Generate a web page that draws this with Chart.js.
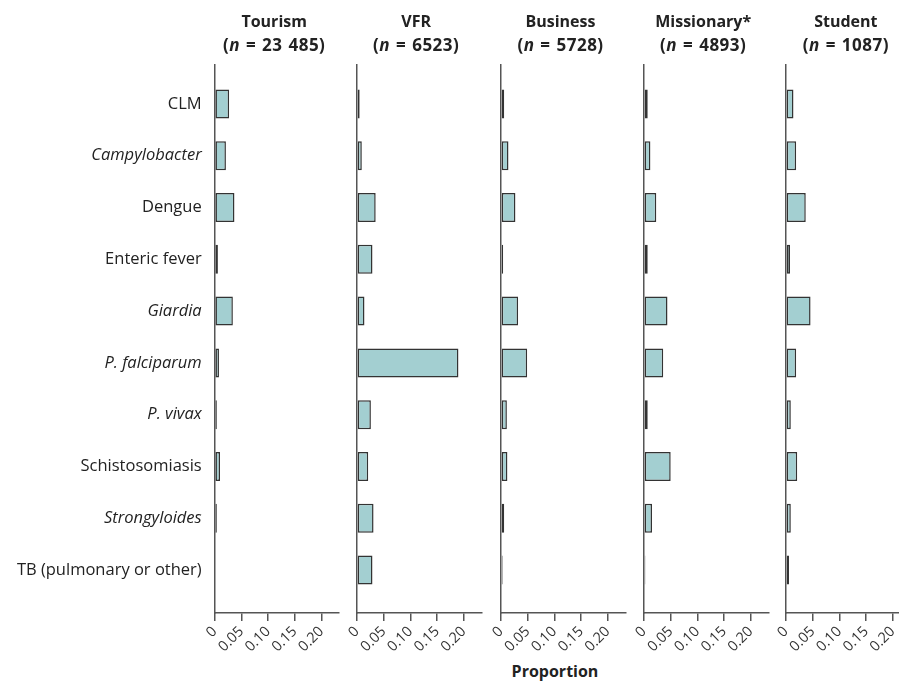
<!DOCTYPE html>
<html>
<head>
<meta charset="utf-8">
<script src="https://cdn.jsdelivr.net/npm/chart.js@4.4.0/dist/chart.umd.min.js"></script>
<style>
body { margin:0; width:899px; height:682px; overflow:hidden; background:#fff; position:relative; font-family:"Open Sans", sans-serif; color:#222; }
canvas { position:absolute; top:0; }
.ttl { position:absolute; top:9px; transform:translateX(-50%); text-align:center; font-weight:bold; font-size:16px; line-height:24px; white-space:nowrap; }
.ttl span { font-size:17px; word-spacing:1px; letter-spacing:0.5px; }
#xlab { position:absolute; left:555px; top:660px; transform:translateX(-50%); font-weight:bold; font-size:16px; line-height:22px; }
</style>
</head>
<body>
<div id="xlab">Proportion</div>
<script>
var categories = ['CLM', 'Campylobacter', 'Dengue', 'Enteric fever', 'Giardia',
	'P. falciparum', 'P. vivax', 'Schistosomiasis', 'Strongyloides', 'TB (pulmonary or other)'];
var italic_cats = ['Campylobacter', 'Giardia', 'P. falciparum', 'P. vivax', 'Strongyloides'];

var tourism    = [0.027, 0.021, 0.037, 0.006, 0.034, 0.008, 0.004, 0.010, 0.004, 0];
var vfr        = [0.005, 0.009, 0.035, 0.029, 0.014, 0.190, 0.026, 0.021, 0.031, 0.029];
var business   = [0.006, 0.014, 0.027, 0.004, 0.032, 0.049, 0.011, 0.012, 0.006, 0.003];
var missionary = [0.007, 0.012, 0.023, 0.007, 0.044, 0.036, 0.007, 0.050, 0.015, 0.0025];
var student    = [0.014, 0.019, 0.037, 0.0075, 0.046, 0.019, 0.009, 0.021, 0.009, 0.0056];

var groups = ['Tourism', 'VFR', 'Business', 'Missionary*', 'Student'];
var group_n = ['23 485', '6523', '5728', '4893', '1087'];
var x_ticks = [0, 0.05, 0.10, 0.15, 0.20];

var series = [tourism, vfr, business, missionary, student];

// layout (pixels)
var axis_left = [214.7, 356.7, 501, 643.7, 786.3];
var plot_w = 124.4;
var plot_top = 65;
var axis_y = 613;
var H = 682;

function init() {
	for(let i = 0; i < series.length; i++) {
		let padL = i == 0 ? axis_left[0] : 30;
		let cw = Math.ceil(padL + plot_w + 16);
		let padR = cw - padL - plot_w;

		let cv = document.createElement('canvas');
		cv.width = cw;
		cv.height = H;
		cv.style.left = (axis_left[i] - padL) + 'px';
		document.body.appendChild(cv);

		let t = document.createElement('div');
		t.className = 'ttl';
		t.style.left = (axis_left[i] + 59.5) + 'px';
		t.innerHTML = groups[i] + '<br><span>(<i>n</i> = ' + group_n[i] + ')</span>';
		document.body.appendChild(t);

		new Chart(cv, {
			type: 'bar',
			data: {
				datasets: [{
					data: series[i].map((v, k) => ({x: v, y: k})),
					backgroundColor: '#a3cfd1',
					borderColor: '#333',
					borderWidth: 1.5,
					borderSkipped: false,
					barPercentage: 0.56,
					categoryPercentage: 1
				}]
			},
			options: {
				indexAxis: 'y',
				responsive: false,
				animation: false,
				events: [],
				layout: { padding: { top: plot_top, right: padR, left: 0, bottom: 0 } },
				plugins: { legend: { display: false }, tooltip: { enabled: false } },
				scales: {
					y: {
						type: 'linear',
						reverse: true,
						offset: false,
						min: -0.753,
						max: 9.83,
						afterBuildTicks: s => { s.ticks = categories.map((c, k) => ({value: k})); },
						afterFit: s => { s.width = padL; },
						grid: { display: false, drawTicks: false, offset: false },
						border: { display: true, color: '#555', width: 1.5 },
						ticks: {
							display: i == 0,
							padding: 13,
							color: '#222',
							callback: v => categories[v],
							font: c => ({
								family: 'Open Sans',
								size: 16.5,
								style: (c.tick && italic_cats.includes(categories[c.tick.value])) ? 'italic' : 'normal'
							})
						}
					},
					x: {
						type: 'linear',
						min: 0,
						max: 0.233,
						afterBuildTicks: s => { s.ticks = x_ticks.map(v => ({value: v})); },
						afterFit: s => { s.height = H - axis_y; },
						grid: { display: true, drawOnChartArea: false, drawTicks: true, tickLength: 8, color: '#555', lineWidth: 1.5 },
						border: { display: true, color: '#555', width: 1.5 },
						ticks: {
							autoSkip: false,
							maxRotation: 45,
							minRotation: 45,
							padding: 2,
							color: '#333',
							font: { family: 'Open Sans', size: 14.5 },
							callback: v => v === 0 ? '0' : v.toFixed(2)
						}
					}
				}
			}
		});
	}
}
init();
</script>
</body>
</html>
